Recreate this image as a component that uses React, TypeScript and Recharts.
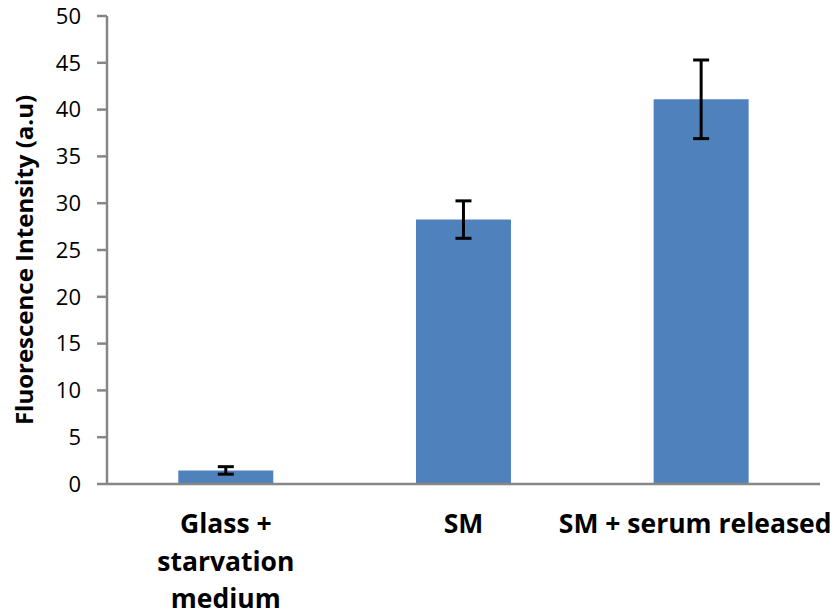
import React from 'react';
import { BarChart, Bar, XAxis, YAxis, ErrorBar, Label } from 'recharts';

const categories = ['Glass + starvation medium', 'SM', 'SM + serum released'];
const categoryLines = [['Glass +', 'starvation', 'medium'], ['SM'], ['SM + serum released']];
const values = [1.45, 28.25, 41.1];
const errors = [0.4, 2.0, 4.2];
const yTicks = [0, 5, 10, 15, 20, 25, 30, 35, 40, 45, 50];

const data = categories.map((c, i) => ({ name: c, value: values[i], err: errors[i] }));

const FONT = '"Open Sans", Lato, sans-serif';

const XTick = (props: any) => {
  const { x, y, index } = props;
  const lines = categoryLines[index] || [];
  const cx = index === categoryLines.length - 1 ? x - 6 : x;
  return (
    <text x={cx} y={y} textAnchor="middle" fontFamily={FONT} fontWeight="bold" fontSize={26.5} fill="#000">
      {lines.map((l, i) => (
        <tspan key={i} x={cx} dy={i === 0 ? 41 : 37.5}>{l}</tspan>
      ))}
    </text>
  );
};

export default function App() {
  return (
    <div style={{ position: 'absolute', left: 0, top: 0, width: 838, height: 616, background: '#fff' }}>
      <BarChart width={838} height={616} data={data} margin={{ top: 16, right: 18, bottom: 0, left: 0 }} barCategoryGap="30%">
        <XAxis
          dataKey="name"
          height={132}
          axisLine={{ stroke: '#868686', strokeWidth: 2.5 }}
          tickLine={false}
          tick={<XTick />}
          interval={0}
        />
        <YAxis
          width={107}
          domain={[0, 50]}
          ticks={yTicks}
          interval={0}
          axisLine={{ stroke: '#868686', strokeWidth: 2.5 }}
          tickLine={{ stroke: '#868686', strokeWidth: 2.5 }}
          tickSize={10}
          tick={{ fill: '#000', fontSize: 22, fontFamily: FONT }}
          tickMargin={16}
        >
          <Label
            content={() => {
              const cx = 33;
              const cy = 260;
              return (
                <text x={cx} y={cy} transform={`rotate(-90, ${cx}, ${cy})`} textAnchor="middle" fontFamily={FONT} fontWeight="bold" fontSize={24} fill="#000">
                  Fluorescence Intensity (a.u)
                </text>
              );
            }}
          />
        </YAxis>
        <Bar dataKey="value" fill="#4F81BD" isAnimationActive={false}>
          <ErrorBar dataKey="err" width={8} stroke="#000" strokeWidth={3} direction="y" />
        </Bar>
      </BarChart>
    </div>
  );
}
